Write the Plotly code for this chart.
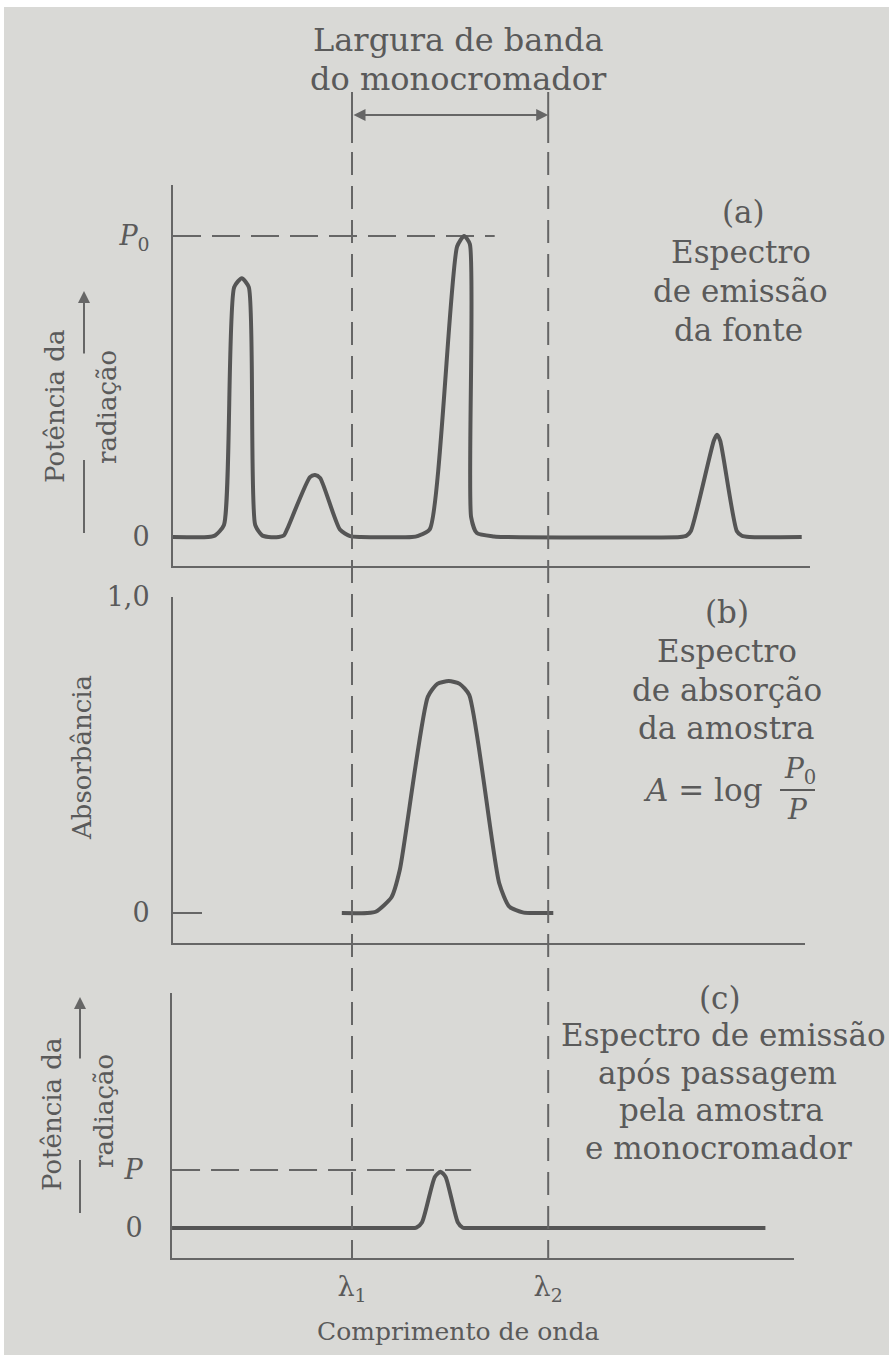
import plotly.graph_objects as go

# ---------------- data ----------------
# shared wavelength scale (arbitrary units); lambda1 / lambda2 = monochromator band
lambda_vals = [28.1, 58.9]
lambda_labels = ["λ<sub>1</sub>", "λ<sub>2</sub>"]

# (a) source emission spectrum, power relative to P0
wl_a = [0, 5.5, 6.6, 8.0, 9.6, 10.8, 11.9, 12.9, 14.0, 15.0,
        16.6, 17.4, 17.9, 21.5, 22.3, 23.1, 26.2, 27.8, 29.5,
        37.5, 38.5, 40.3, 44.6, 45.7, 46.6, 46.8, 47.7, 50.4, 52.0,
        79.6, 80.6, 81.3, 84.9, 85.4, 85.9, 88.5, 89.3, 90.5, 98.7]
pow_a = [0, 0, 0.005, 0.04, 0.83, 0.86, 0.83, 0.04, 0.005, 0,
         0, 0.005, 0.025, 0.199, 0.206, 0.196, 0.025, 0.003, 0,
         0, 0.004, 0.025, 0.965, 1.0, 0.973, 0.066, 0.013, 0.002, 0,
         0, 0.004, 0.02, 0.32, 0.34, 0.32, 0.02, 0.004, 0, 0]
p0_line_x = [0, 50.5]
p0_line_y = [1, 1]

# (b) sample absorption spectrum (absorbance)
wl_b = [26.5, 30.5, 31.9, 34.3, 35.6, 40.0, 41.5, 43.3, 45.0, 46.5, 51.2, 52.8, 54.9, 56.0, 59.7]
abs_b = [0, 0, 0.005, 0.05, 0.136, 0.684, 0.725, 0.734, 0.725, 0.69, 0.095, 0.02, 0.002, 0, 0]

# (c) emission after sample + monochromator, power relative to P
wl_c = [-0.15, 36.5, 38.2, 39.1, 41.1, 42.0, 42.8, 44.7, 45.5, 47.0, 93.0]
pow_c = [0, 0, 0.005, 0.1, 0.88, 0.97, 0.88, 0.1, 0.005, 0, 0]
p_line_x = [-0.15, 46.8]
p_line_y = [1, 1]

yticks_a = [0, 1]
yticktext_a = ["0", "<i>P</i><sub>0</sub>"]
yticks_b = [0, 1]
yticktext_b = ["0", "1,0"]
yticks_c = [0, 1]
yticktext_c = ["0", "<i>P</i>"]

# ---------------- layout helpers ----------------
W, H = 889, 1355
X0_PX, PX_PER_UNIT = 173, 6.37
FONT = "DejaVu Serif"
TXT = "#5a5a5a"
LINE = "#666666"
CURVE = "#555555"
BG = "#d9d9d6"


def px(xp):
    return xp / W


def py(yp):
    return 1 - yp / H


def xax(x0p, x1p, **kw):
    d = dict(domain=[px(x0p), px(x1p)],
             range=[(x0p - X0_PX) / PX_PER_UNIT, (x1p - X0_PX) / PX_PER_UNIT],
             showgrid=False, zeroline=False, showline=True, linecolor=LINE,
             linewidth=2, ticks="", showticklabels=False, fixedrange=True,
             automargin=False)
    d.update(kw)
    return d


def yax(top_p, bot_p, zero_p, one_p, **kw):
    u = zero_p - one_p
    d = dict(domain=[py(bot_p), py(top_p)],
             range=[(zero_p - bot_p) / u, (zero_p - top_p) / u],
             showgrid=False, zeroline=False, showline=True, linecolor=LINE,
             linewidth=2, ticks="", tickfont=dict(family=FONT, size=27, color=TXT),
             fixedrange=True, automargin=False)
    d.update(kw)
    return d


fig = go.Figure()

curve = dict(mode="lines", line=dict(color=CURVE, width=4, shape="spline", smoothing=0.6),
             hoverinfo="skip", showlegend=False)
dash_h = dict(mode="lines", line=dict(color=LINE, width=2, dash="28px,11px"),
              hoverinfo="skip", showlegend=False)

fig.add_trace(go.Scatter(x=p0_line_x, y=p0_line_y, xaxis="x", yaxis="y", **dash_h))
fig.add_trace(go.Scatter(x=wl_a, y=pow_a, xaxis="x", yaxis="y", **curve))
fig.add_trace(go.Scatter(x=wl_b, y=abs_b, xaxis="x2", yaxis="y2", **curve))
fig.add_trace(go.Scatter(x=p_line_x, y=p_line_y, xaxis="x3", yaxis="y3", **dash_h))
fig.add_trace(go.Scatter(x=wl_c, y=pow_c, xaxis="x3", yaxis="y3", **curve))

fig.update_layout(
    width=W, height=H,
    margin=dict(l=0, r=0, t=0, b=0, pad=0, autoexpand=False),
    paper_bgcolor=BG, plot_bgcolor="rgba(0,0,0,0)",
    showlegend=False,
    font=dict(family=FONT, color=TXT),
    xaxis=xax(173, 810, anchor="y"),
    yaxis=yax(185, 566, 537, 236, anchor="x", tickvals=yticks_a, ticktext=yticktext_a,
              ticklabelstandoff=16),
    xaxis2=xax(173, 805, anchor="y2"),
    yaxis2=yax(597, 943, 913, 597, anchor="x2", tickvals=yticks_b, ticktext=yticktext_b,
               ticks="inside", ticklen=29, tickwidth=2, tickcolor=LINE,
               ticklabelstandoff=16),
    xaxis3=xax(172, 794, anchor="y3", showticklabels=True, tickvals=lambda_vals,
               ticktext=lambda_labels, tickfont=dict(family=FONT, size=27, color=TXT),
               ticklabelstandoff=4),
    yaxis3=yax(993, 1258, 1228, 1170, anchor="x3", tickvals=yticks_c, ticktext=yticktext_c,
               ticklabelstandoff=22),
)

shapes = []
# white photo border strips
shapes.append(dict(type="rect", xref="paper", yref="paper", x0=0, x1=1, y0=py(7), y1=1,
                   fillcolor="white", line=dict(width=0), layer="above"))
shapes.append(dict(type="rect", xref="paper", yref="paper", x0=0, x1=px(4), y0=0, y1=1,
                   fillcolor="white", line=dict(width=0), layer="above"))
# monochromator band limits
for lv in lambda_vals:
    shapes.append(dict(type="line", xref="x", yref="paper", x0=lv, x1=lv,
                       y0=py(92), y1=py(143), line=dict(color=LINE, width=2)))
    shapes.append(dict(type="line", xref="x", yref="paper", x0=lv, x1=lv,
                       y0=py(152), y1=py(1258), line=dict(color=LINE, width=2, dash="23px,11px")))
# lower parts of the y-label arrows
shapes.append(dict(type="line", xref="paper", yref="paper", x0=px(84), x1=px(84),
                   y0=py(460), y1=py(533), line=dict(color=LINE, width=2)))
shapes.append(dict(type="line", xref="paper", yref="paper", x0=px(80), x1=px(80),
                   y0=py(1160), y1=py(1213), line=dict(color=LINE, width=2)))
# fraction bar of A = log P0/P
shapes.append(dict(type="line", xref="paper", yref="paper", x0=px(780), x1=px(815),
                   y0=py(790), y1=py(790), line=dict(color=TXT, width=2)))
fig.update_layout(shapes=shapes)

ann = []


def text(t, xp, yp, size=31, angle=0):
    ann.append(dict(text=t, x=px(xp), y=py(yp), xref="paper", yref="paper",
                    xanchor="center", yanchor="middle", showarrow=False, textangle=angle,
                    font=dict(family=FONT, size=size, color=TXT)))


text("Largura de banda", 458, 40, 32)
text("do monocromador", 458, 79, 32)

text("(a)", 743, 212)
text("Espectro", 741, 252)
text("de emissão", 740, 291)
text("da fonte", 738, 330)

text("(b)", 727, 612)
text("Espectro", 727, 651)
text("de absorção", 727, 690)
text("da amostra", 726, 728)
text("<i>A</i> = log", 703, 790)
text("<i>P</i><sub>0</sub>", 800, 771, 28)
text("<i>P</i>", 797, 809, 28)

text("(c)", 720, 998)
text("Espectro de emissão", 723, 1035)
text("após passagem", 717, 1073)
text("pela amostra", 721, 1110)
text("e monocromador", 718, 1148)

text("Potência da", 55, 407, 26, -90)
text("radiação", 107, 407, 26, -90)
text("Absorbância", 82, 758, 26, -90)
text("Potência da", 52, 1115, 26, -90)
text("radiação", 104, 1111, 26, -90)

text("Comprimento de onda", 458, 1331, 25)

# band-width double arrow
ann.append(dict(text="", x=lambda_vals[1], y=py(115), xref="x", yref="paper",
                ax=lambda_vals[0], axref="x", ay=0, ayref="pixel",
                showarrow=True, arrowhead=2, arrowside="end+start", arrowsize=1.2,
                arrowwidth=2, arrowcolor=LINE, standoff=0, startstandoff=0))
# y-label arrows
ann.append(dict(text="", x=px(84), y=py(291), xref="paper", yref="paper",
                ax=0, ay=64, axref="pixel", ayref="pixel", showarrow=True, arrowhead=2,
                arrowsize=1.2, arrowwidth=2, arrowcolor=LINE, standoff=0))
ann.append(dict(text="", x=px(80), y=py(997), xref="paper", yref="paper",
                ax=0, ay=63, axref="pixel", ayref="pixel", showarrow=True, arrowhead=2,
                arrowsize=1.2, arrowwidth=2, arrowcolor=LINE, standoff=0))

fig.update_layout(annotations=ann)

fig.write_html("out.html",
               post_script="document.body.style.margin='0';document.body.style.overflow='hidden';")
